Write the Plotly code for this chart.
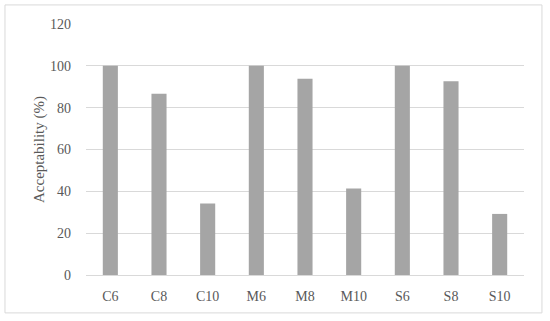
import plotly.graph_objects as go

categories = ['C6', 'C8', 'C10', 'M6', 'M8', 'M10', 'S6', 'S8', 'S10']
acceptability = [100, 86.7, 34.2, 100, 93.8, 41.4, 100, 92.6, 29.2]
y_ticks = [0, 20, 40, 60, 80, 100, 120]

fig = go.Figure()
fig.add_trace(go.Bar(
    x=categories,
    y=acceptability,
    marker=dict(color='#a5a5a5', line=dict(width=0)),
    width=0.31,
))

fig.update_layout(
    width=550,
    height=321,
    margin=dict(l=86, r=26, t=24, b=46),
    plot_bgcolor='white',
    paper_bgcolor='white',
    font=dict(family='Liberation Serif, DejaVu Serif, serif', size=14, color='#595959'),
    showlegend=False,
    xaxis=dict(
        showgrid=False,
        showline=True,
        linecolor='#d9d9d9',
        linewidth=1,
        ticks='',
        ticklabelstandoff=8,
        tickfont=dict(size=14),
    ),
    yaxis=dict(
        range=[0, 120],
        tickvals=y_ticks,
        showgrid=True,
        gridcolor='#d9d9d9',
        gridwidth=1,
        zeroline=False,
        showline=False,
        ticks='',
        ticklabelstandoff=14,
        tickfont=dict(size=14),
        title=dict(text='Acceptability (%)', standoff=1, font=dict(size=15)),
    ),
    shapes=[dict(
        type='rect', xref='paper', yref='paper',
        x0=-0.185, x1=1.041, y0=-0.151, y1=1.076,
        line=dict(color='#d9d9d9', width=1),
    )],
)

# page body has a default 8px margin; drop it so the chart sits at 0,0
fig.write_html("out.html", config={'displayModeBar': False},
               post_script="document.body.style.margin='0';")
